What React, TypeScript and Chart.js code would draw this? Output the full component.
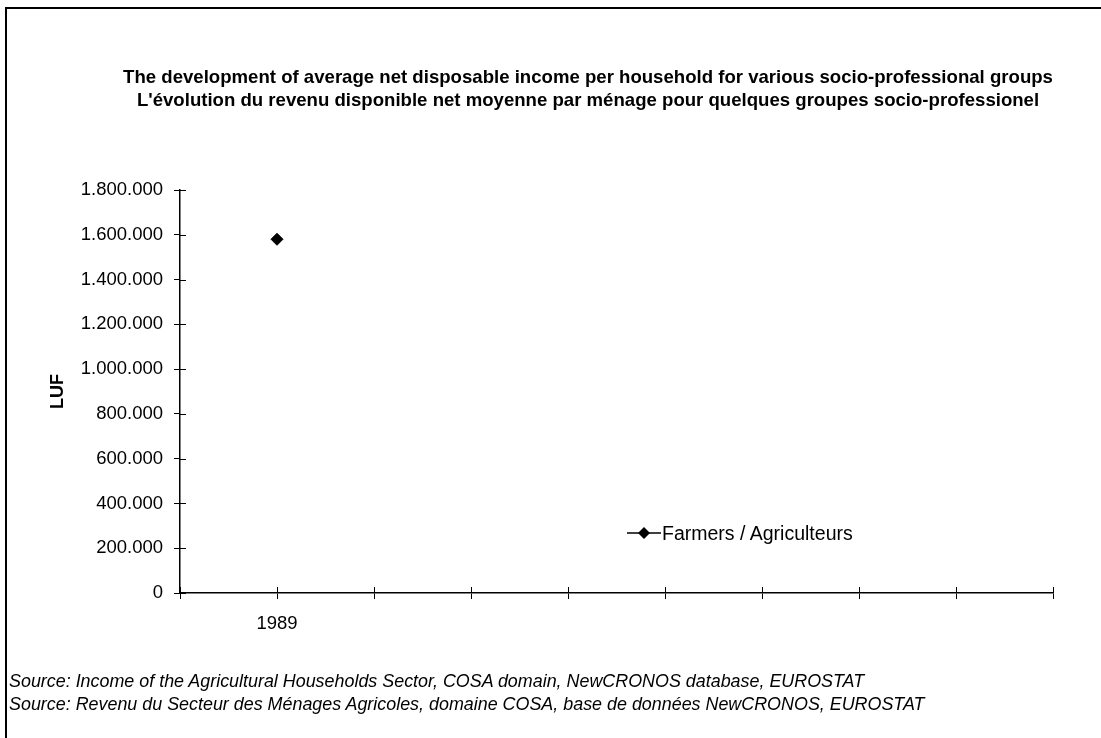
import React, { useEffect, useRef } from "react";
import { Chart, registerables } from "chart.js";

Chart.register(...registerables);

// ---- data ----
const categories: string[] = ["", "1989", "", "", "", "", "", "", "", ""];
const farmersValues: (number | null)[] = [null, 1580000, null, null, null, null, null, null, null, null];
const seriesLabel = "Farmers / Agriculteurs";
const yTickMin = 0;
const yTickMax = 1800000;
const yTickStep = 200000;
const yAxisTitle = "LUF";
const titleLines: string[] = [
  "The development of average net disposable income per household for various socio-professional groups",
  "L'évolution du revenu disponible net moyenne par ménage pour quelques groupes socio-professionel",
];
const sourceLines: string[] = [
  "Source: Income of the Agricultural Households Sector, COSA domain, NewCRONOS database, EUROSTAT",
  "Source: Revenu du Secteur des Ménages Agricoles, domaine COSA, base de données NewCRONOS, EUROSTAT",
];

const FONT = '"Liberation Sans", Arial, Helvetica, sans-serif';

const fmt = (v: number) => String(v).replace(/\B(?=(\d{3})+(?!\d))/g, ".");

const innerTicks = {
  id: "innerTicks",
  afterDraw(chart: any) {
    const { ctx, chartArea, scales } = chart;
    ctx.save();
    ctx.strokeStyle = "#000";
    ctx.lineWidth = 1;
    const ys = scales.y;
    ys.ticks.forEach((_: any, i: number) => {
      const p = Math.round(ys.getPixelForTick(i)) + 0.5;
      ctx.beginPath();
      ctx.moveTo(chartArea.left, p);
      ctx.lineTo(chartArea.left + 6, p);
      ctx.stroke();
    });
    const xs = scales.x;
    xs.ticks.forEach((_: any, i: number) => {
      const p = Math.round(xs.getPixelForTick(i)) + 0.5;
      ctx.beginPath();
      ctx.moveTo(p, chartArea.bottom);
      ctx.lineTo(p, chartArea.bottom - 6);
      ctx.stroke();
    });
    ctx.restore();
  },
};

function ChartCanvas() {
  const ref = useRef<HTMLCanvasElement | null>(null);
  useEffect(() => {
    if (!ref.current) return;
    const chart = new Chart(ref.current, {
      type: "line",
      data: {
        labels: categories,
        datasets: [
          {
            label: seriesLabel,
            data: farmersValues,
            borderColor: "#000",
            backgroundColor: "#000",
            borderWidth: 1.5,
            pointStyle: "rectRot",
            pointRadius: 6,
            pointBorderWidth: 1,
            pointBackgroundColor: "#000",
            pointBorderColor: "#000",
          },
        ],
      },
      options: {
        responsive: false,
        animation: false,
        layout: { padding: { top: 190, right: 48, bottom: 105, left: 0 } },
        plugins: {
          legend: { display: false },
          title: { display: false },
          tooltip: { enabled: false },
        },
        scales: {
          x: {
            offset: false,
            afterFit: (s: any) => {
              s.height = 40;
            },
            grid: {
              display: true,
              drawOnChartArea: false,
              drawTicks: true,
              tickLength: 6,
              color: "#000",
              lineWidth: 1,
            },
            border: { display: true, color: "#000", width: 1.5 },
            ticks: {
              autoSkip: false,
              maxRotation: 0,
              padding: 14,
              color: "#000",
              font: { family: FONT, size: 18.5 },
            },
          },
          y: {
            min: yTickMin,
            max: yTickMax,
            afterFit: (s: any) => {
              s.width = 180;
            },
            grid: {
              display: true,
              drawOnChartArea: false,
              drawTicks: true,
              tickLength: 6,
              color: "#000",
              lineWidth: 1,
            },
            border: { display: true, color: "#000", width: 1.5 },
            ticks: {
              stepSize: yTickStep,
              padding: 11,
              color: "#000",
              font: { family: FONT, size: 18.5 },
              callback: (v: any) => fmt(Number(v)),
            },
            title: {
              display: true,
              text: yAxisTitle,
              color: "#000",
              font: { family: FONT, size: 18, weight: "bold" },
              padding: { top: 47, bottom: 0 },
            },
          },
        },
      },
      plugins: [innerTicks],
    });
    return () => chart.destroy();
  }, []);
  return <canvas ref={ref} width={1101} height={738} style={{ position: "absolute", left: 0, top: 0 }} />;
}

export default function App() {
  return (
    <div
      style={{
        position: "absolute",
        left: 0,
        top: 0,
        width: 1101,
        height: 738,
        overflow: "hidden",
        background: "#fff",
        fontFamily: FONT,
        color: "#000",
      }}
    >
      <div
        style={{
          position: "absolute",
          left: 5,
          top: 7,
          width: 1200,
          height: 800,
          borderTop: "2px solid #000",
          borderLeft: "2px solid #000",
        }}
      />
      <ChartCanvas />
      <div
        style={{
          position: "absolute",
          left: 75,
          top: 64.5,
          width: 1026,
          textAlign: "center",
          fontWeight: "bold",
          fontSize: 18.6,
          lineHeight: "23px",
          whiteSpace: "nowrap",
        }}
      >
        {titleLines.map((t, i) => (
          <div key={i}>{t}</div>
        ))}
      </div>
      <div
        style={{
          position: "absolute",
          left: 627,
          top: 521,
          height: 24,
          display: "flex",
          alignItems: "center",
          fontSize: 19.5,
          whiteSpace: "nowrap",
        }}
      >
        <svg width={34} height={14} style={{ display: "block" }}>
          <line x1={0} y1={7} x2={34} y2={7} stroke="#000" strokeWidth={1.5} />
          <polygon points="17,1 23,7 17,13 11,7" fill="#000" />
        </svg>
        <span style={{ marginLeft: 1 }}>{seriesLabel}</span>
      </div>
      <div
        style={{
          position: "absolute",
          left: 9,
          top: 669.5,
          fontStyle: "italic",
          fontSize: 17.9,
          lineHeight: "23px",
          whiteSpace: "nowrap",
        }}
      >
        {sourceLines.map((t, i) => (
          <div key={i}>{t}</div>
        ))}
      </div>
    </div>
  );
}
